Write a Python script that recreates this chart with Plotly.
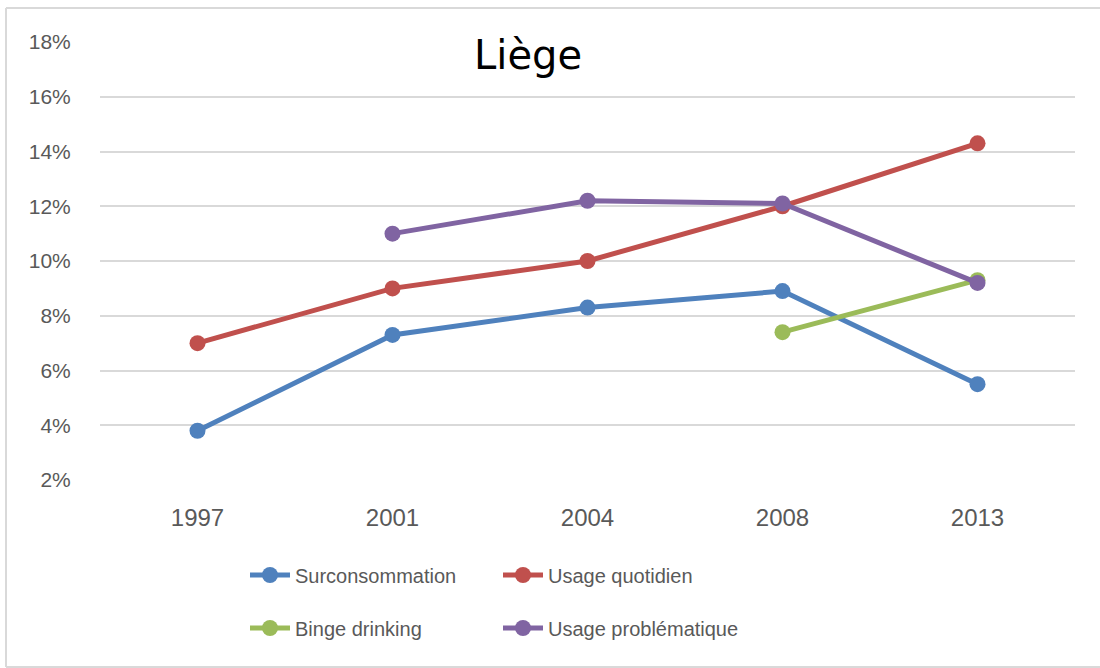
import plotly.graph_objects as go

years = ["1997", "2001", "2004", "2008", "2013"]
surconsommation = [3.8, 7.3, 8.3, 8.9, 5.5]
usage_quotidien = [7.0, 9.0, 10.0, 12.0, 14.3]
binge_drinking = [None, None, None, 7.4, 9.3]
usage_problematique = [None, 11.0, 12.2, 12.1, 9.2]
y_ticks = [2, 4, 6, 8, 10, 12, 14, 16, 18]
y_ticktext = [f"{v}%" for v in y_ticks]

series = [
    ("Surconsommation", surconsommation, "#4F81BD", "legend"),
    ("Usage quotidien", usage_quotidien, "#C0504D", "legend2"),
    ("Binge drinking", binge_drinking, "#9BBB59", "legend3"),
    ("Usage problématique", usage_problematique, "#8064A2", "legend4"),
]

fig = go.Figure()
for name, vals, color, leg in series:
    fig.add_trace(go.Scatter(
        x=years, y=vals, name=name, mode="lines+markers",
        line=dict(color=color, width=5),
        marker=dict(color=color, size=16),
        connectgaps=False, legend=leg,
    ))

W, H = 1100, 668
ml, mr, mt, mb = 100, 25, 42, 188
pw, ph = W - ml - mr, H - mt - mb

def px(x):
    return (x - ml) / pw

def py(y):
    return (H - mb - y) / ph

legfont = dict(family="Liberation Sans, Arial, sans-serif", size=20, color="#595959")

def legend_at(xp, yp):
    return dict(x=px(xp), y=py(yp), xanchor="left", yanchor="middle",
                font=legfont, bgcolor="rgba(0,0,0,0)", borderwidth=0,
                itemwidth=40)

border = dict(color="#D9D9D9", width=2)
fig.update_layout(
    width=W, height=H,
    margin=dict(l=ml, r=mr, t=mt, b=mb),
    paper_bgcolor="white", plot_bgcolor="white",
    showlegend=True,
    legend=legend_at(245, 575),
    legend2=legend_at(498, 575),
    legend3=legend_at(245, 628),
    legend4=legend_at(498, 628),
    xaxis=dict(
        type="category", showgrid=False, showline=False, zeroline=False,
        ticks="outside", ticklen=16, tickcolor="rgba(0,0,0,0)",
        tickfont=dict(family="Liberation Sans, Arial, sans-serif", size=24, color="#595959"),
        range=[-0.5, 4.5],
    ),
    yaxis=dict(
        range=[2, 18], tickvals=y_ticks, ticktext=y_ticktext,
        showgrid=True, gridcolor="#D9D9D9", gridwidth=2,
        showline=False, zeroline=False,
        ticks="outside", ticklen=24, tickcolor="rgba(0,0,0,0)",
        tickfont=dict(family="Liberation Sans, Arial, sans-serif", size=21, color="#595959"),
    ),
    annotations=[dict(
        text="Liège", x=px(528), y=py(55), xref="paper", yref="paper",
        xanchor="center", yanchor="middle", showarrow=False,
        font=dict(family="DejaVu Sans, sans-serif", size=40, color="black"),
    )],
    shapes=[
        dict(type="line", xref="paper", yref="paper",
             x0=px(6), x1=px(6), y0=py(667), y1=py(8), line=border, layer="below"),
        dict(type="line", xref="paper", yref="paper",
             x0=px(6), x1=px(1100), y0=py(8), y1=py(8), line=border, layer="below"),
        dict(type="line", xref="paper", yref="paper",
             x0=px(6), x1=px(1100), y0=py(667), y1=py(667), line=border, layer="below"),
    ],
)

fig.write_html("out.html", config={"displayModeBar": False},
               post_script="document.body.style.margin='0';document.body.style.overflow='hidden';")
